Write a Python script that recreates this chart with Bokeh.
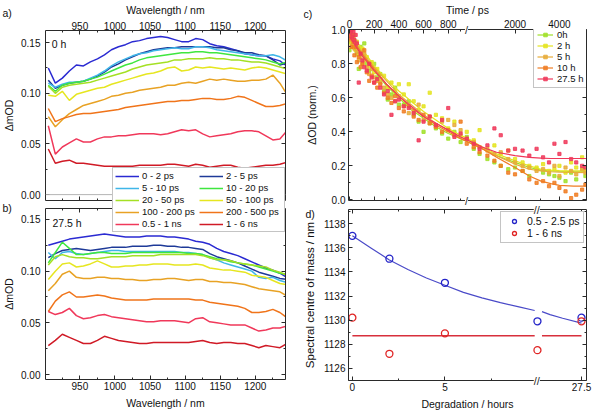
import numpy as np
from bokeh.plotting import figure
from bokeh.models import (LinearAxis, FixedTicker, Legend, LegendItem, Label, Span,
                          Range1d, NumeralTickFormatter, CustomLabelingPolicy)
from bokeh.layouts import row, column
from bokeh.embed import file_html
from bokeh.resources import INLINE

FONT = "Liberation Sans"
TXT = "#111111"

# ---------------- panel a / b : spectra ----------------
wavelength = [905, 915, 925, 935, 945, 955, 965, 975, 985, 995, 1005, 1015, 1025, 1035, 1045,
              1055, 1065, 1075, 1085, 1095, 1105, 1115, 1125, 1135, 1145, 1155, 1165, 1175,
              1185, 1195, 1205, 1215, 1225, 1235, 1245]

delay_labels = ["0 - 2 ps", "2 - 5 ps", "5 - 10 ps", "10 - 20 ps", "20 - 50 ps",
                "50 - 100 ps", "100 - 200 ps", "200 - 500 ps", "0.5 - 1 ns", "1 - 6 ns"]
delay_colors = ["#2a2ad2", "#1e3a98", "#3fb6e8", "#3fe63f", "#a4e024",
                "#e6e620", "#e8a224", "#f0741a", "#f0385a", "#d01a26"]

a_0_2ps = [0.125, 0.110, 0.115, 0.122, 0.128, 0.127, 0.131, 0.134, 0.138, 0.143, 0.146, 0.148,
           0.151, 0.152, 0.154, 0.155, 0.156, 0.155, 0.153, 0.151, 0.151, 0.154, 0.153, 0.149,
           0.147, 0.146, 0.144, 0.142, 0.139, 0.138, 0.137, 0.137, 0.134, 0.132, 0.127]
a_2_5ps = [0.113, 0.105, 0.108, 0.110, 0.111, 0.112, 0.114, 0.117, 0.121, 0.126, 0.129, 0.133,
           0.136, 0.139, 0.141, 0.143, 0.144, 0.145, 0.145, 0.146, 0.146, 0.146, 0.146, 0.146,
           0.145, 0.145, 0.143, 0.142, 0.140, 0.140, 0.138, 0.137, 0.133, 0.128, 0.130]
a_5_10ps = [0.110, 0.106, 0.109, 0.111, 0.111, 0.112, 0.115, 0.118, 0.122, 0.127, 0.131, 0.134,
            0.137, 0.139, 0.140, 0.142, 0.143, 0.144, 0.145, 0.144, 0.144, 0.146, 0.146, 0.145,
            0.143, 0.142, 0.141, 0.140, 0.139, 0.138, 0.137, 0.137, 0.138, 0.136, 0.132]
a_10_20ps = [0.108, 0.102, 0.108, 0.110, 0.111, 0.112, 0.114, 0.116, 0.119, 0.122, 0.125, 0.128,
             0.130, 0.133, 0.135, 0.136, 0.137, 0.138, 0.139, 0.140, 0.140, 0.141, 0.141, 0.140,
             0.140, 0.139, 0.138, 0.137, 0.136, 0.135, 0.134, 0.133, 0.131, 0.129, 0.131]
a_20_50ps = [0.107, 0.100, 0.106, 0.108, 0.109, 0.110, 0.111, 0.113, 0.115, 0.117, 0.119, 0.121,
             0.124, 0.126, 0.128, 0.129, 0.130, 0.131, 0.133, 0.133, 0.134, 0.134, 0.134, 0.135,
             0.134, 0.134, 0.133, 0.133, 0.132, 0.131, 0.131, 0.130, 0.128, 0.126, 0.124]
a_50_100ps = [0.098, 0.097, 0.102, 0.093, 0.099, 0.101, 0.103, 0.105, 0.106, 0.109, 0.111, 0.113,
              0.115, 0.117, 0.119, 0.120, 0.122, 0.125, 0.126, 0.122, 0.123, 0.126, 0.125, 0.126,
              0.125, 0.124, 0.125, 0.124, 0.123, 0.125, 0.126, 0.125, 0.123, 0.121, 0.119]
a_100_200ps = [0.077, 0.067, 0.074, 0.080, 0.084, 0.088, 0.090, 0.092, 0.094, 0.097, 0.098, 0.100,
               0.101, 0.103, 0.104, 0.105, 0.106, 0.108, 0.108, 0.110, 0.111, 0.110, 0.112, 0.114,
               0.113, 0.114, 0.113, 0.112, 0.112, 0.113, 0.113, 0.114, 0.118, 0.110, 0.099]
a_200_500ps = [0.085, 0.072, 0.075, 0.077, 0.079, 0.080, 0.080, 0.081, 0.082, 0.083, 0.084, 0.086,
               0.087, 0.088, 0.089, 0.090, 0.091, 0.092, 0.092, 0.093, 0.093, 0.094, 0.095, 0.095,
               0.094, 0.094, 0.095, 0.097, 0.096, 0.093, 0.090, 0.087, 0.087, 0.088, 0.090]
a_05_1ns = [0.068, 0.040, 0.047, 0.051, 0.055, 0.052, 0.052, 0.055, 0.057, 0.057, 0.058, 0.058,
            0.059, 0.060, 0.060, 0.060, 0.059, 0.060, 0.062, 0.064, 0.063, 0.064, 0.060, 0.057,
            0.058, 0.059, 0.060, 0.062, 0.063, 0.063, 0.062, 0.058, 0.054, 0.055, 0.063]
a_1_6ns = [0.045, 0.031, 0.033, 0.034, 0.031, 0.031, 0.030, 0.029, 0.028, 0.028, 0.028, 0.028,
           0.028, 0.029, 0.029, 0.029, 0.029, 0.030, 0.030, 0.029, 0.028, 0.030, 0.029, 0.027,
           0.028, 0.029, 0.029, 0.027, 0.026, 0.027, 0.028, 0.029, 0.029, 0.030, 0.032]

b_0_2ps = [0.125, 0.127, 0.129, 0.131, 0.132, 0.133, 0.134, 0.135, 0.136, 0.135, 0.134, 0.133,
           0.133, 0.133, 0.134, 0.134, 0.134, 0.133, 0.133, 0.132, 0.131, 0.129, 0.128, 0.126,
           0.122, 0.119, 0.117, 0.115, 0.112, 0.109, 0.106, 0.103, 0.101, 0.098, 0.094]
b_2_5ps = [0.113, 0.117, 0.120, 0.121, 0.122, 0.121, 0.120, 0.121, 0.122, 0.123, 0.123, 0.123,
           0.124, 0.124, 0.124, 0.125, 0.125, 0.124, 0.124, 0.123, 0.123, 0.122, 0.121, 0.117,
           0.114, 0.112, 0.110, 0.108, 0.105, 0.102, 0.099, 0.097, 0.095, 0.093, 0.092]
b_5_10ps = [0.118, 0.112, 0.118, 0.119, 0.117, 0.116, 0.117, 0.118, 0.119, 0.120, 0.120, 0.119,
            0.119, 0.119, 0.119, 0.119, 0.119, 0.119, 0.119, 0.118, 0.118, 0.117, 0.116, 0.113,
            0.111, 0.108, 0.106, 0.104, 0.102, 0.100, 0.094, 0.093, 0.094, 0.091, 0.089]
b_10_20ps = [0.108, 0.118, 0.128, 0.122, 0.116, 0.116, 0.117, 0.118, 0.118, 0.117, 0.117, 0.117,
             0.118, 0.118, 0.118, 0.118, 0.118, 0.118, 0.118, 0.118, 0.117, 0.117, 0.116, 0.114,
             0.112, 0.111, 0.109, 0.108, 0.107, 0.106, 0.104, 0.102, 0.100, 0.098, 0.097]
b_20_50ps = [0.106, 0.114, 0.116, 0.114, 0.113, 0.113, 0.112, 0.112, 0.113, 0.114, 0.114, 0.114,
             0.115, 0.115, 0.115, 0.115, 0.116, 0.116, 0.116, 0.116, 0.116, 0.116, 0.115, 0.113,
             0.111, 0.111, 0.110, 0.108, 0.107, 0.106, 0.105, 0.104, 0.101, 0.099, 0.096]
b_50_100ps = [0.092, 0.100, 0.107, 0.108, 0.104, 0.105, 0.107, 0.110, 0.107, 0.104, 0.104, 0.105,
              0.105, 0.106, 0.106, 0.107, 0.107, 0.107, 0.106, 0.106, 0.106, 0.107, 0.106, 0.103,
              0.102, 0.101, 0.101, 0.100, 0.099, 0.096, 0.095, 0.094, 0.091, 0.088, 0.087]
b_100_200ps = [0.081, 0.088, 0.097, 0.100, 0.094, 0.093, 0.093, 0.094, 0.094, 0.093, 0.093, 0.092,
               0.092, 0.091, 0.091, 0.092, 0.092, 0.093, 0.093, 0.092, 0.091, 0.092, 0.092, 0.090,
               0.090, 0.089, 0.089, 0.088, 0.087, 0.085, 0.083, 0.082, 0.081, 0.080, 0.076]
b_200_500ps = [0.061, 0.071, 0.077, 0.080, 0.075, 0.075, 0.076, 0.077, 0.076, 0.074, 0.073, 0.072,
               0.072, 0.072, 0.072, 0.073, 0.073, 0.073, 0.073, 0.073, 0.073, 0.072, 0.072, 0.070,
               0.069, 0.068, 0.067, 0.066, 0.064, 0.060, 0.060, 0.061, 0.063, 0.060, 0.055]
b_05_1ns = [0.061, 0.058, 0.060, 0.064, 0.057, 0.054, 0.055, 0.057, 0.058, 0.056, 0.055, 0.054,
            0.053, 0.052, 0.051, 0.051, 0.052, 0.052, 0.052, 0.051, 0.050, 0.054, 0.055, 0.051,
            0.050, 0.049, 0.048, 0.048, 0.048, 0.045, 0.042, 0.043, 0.045, 0.045, 0.047]
b_1_6ns = [0.028, 0.033, 0.039, 0.036, 0.033, 0.030, 0.030, 0.033, 0.037, 0.035, 0.033, 0.032,
           0.031, 0.030, 0.030, 0.031, 0.031, 0.031, 0.031, 0.031, 0.031, 0.032, 0.033, 0.031,
           0.030, 0.031, 0.031, 0.030, 0.030, 0.028, 0.026, 0.028, 0.027, 0.026, 0.030]

spectra_a = [a_0_2ps, a_2_5ps, a_5_10ps, a_10_20ps, a_20_50ps, a_50_100ps, a_100_200ps,
             a_200_500ps, a_05_1ns, a_1_6ns]
spectra_b = [b_0_2ps, b_2_5ps, b_5_10ps, b_10_20ps, b_20_50ps, b_50_100ps, b_100_200ps,
             b_200_500ps, b_05_1ns, b_1_6ns]

wl_ticks = [950, 1000, 1050, 1100, 1150, 1200]
wl_minor = [925, 975, 1025, 1075, 1125, 1175, 1225]
mod_ticks = [0.0, 0.05, 0.10, 0.15]
mod_minor = [0.025, 0.075, 0.125]

# ---------------- panel c : kinetics ----------------
kin_labels = ["0h", "2 h", "5 h", "10 h", "27.5 h"]
kin_colors = ["#a0e028", "#e4e41e", "#e8ac38", "#f07c22", "#f0385a"]

time_ps = [0, 8, 16, 24, 32, 40, 50, 60, 75, 90,
           105, 120, 140, 160, 180, 200, 225, 250, 280, 310,
           340, 370, 400, 440, 480, 520, 560, 600, 650, 700,
           750, 800, 850, 900, 950, 1050, 1150, 1300, 1450, 1600,
           1800, 2000, 2250, 2500, 2800, 3100, 3400, 3700, 4000, 4400,
           4800, 5200, 5700, 6000]
kin_0h = [0.88, 0.93, 0.97, 0.90, 0.95, 0.92, 0.89, 0.86, 0.77, 0.90,
          0.88, 0.92, 0.80, 0.76, 0.78, 0.80, 0.72, 0.74, 0.64, 0.59,
          0.62, 0.66, 0.56, 0.56, 0.58, 0.50, 0.46, 0.40, 0.45, 0.42,
          0.39, 0.36, 0.40, 0.34, 0.37, 0.30, 0.27, 0.24, 0.22, 0.20,
          0.18, 0.19, 0.17, 0.14, 0.18, 0.16, 0.15, 0.14, 0.13, 0.11,
          0.16, 0.12, 0.18, 0.14]
kin_2h = [0.95, 0.99, 0.92, 0.96, 0.90, 0.97, 0.88, 0.93, 0.85, 0.86,
          0.89, 0.82, 0.84, 0.79, 0.81, 0.75, 0.77, 0.71, 0.73, 0.66,
          0.69, 0.64, 0.68, 0.62, 0.68, 0.58, 0.53, 0.55, 0.63, 0.50,
          0.48, 0.42, 0.46, 0.38, 0.40, 0.35, 0.41, 0.30, 0.32, 0.27,
          0.29, 0.24, 0.22, 0.20, 0.19, 0.21, 0.17, 0.18, 0.20, 0.16,
          0.22, 0.19, 0.25, 0.17]
kin_5h = [0.97, 0.94, 1.00, 0.91, 0.96, 0.89, 0.93, 0.87, 0.82, 0.84,
          0.80, 0.86, 0.78, 0.74, 0.77, 0.72, 0.70, 0.69, 0.66, 0.62,
          0.60, 0.58, 0.61, 0.55, 0.51, 0.52, 0.56, 0.47, 0.49, 0.43,
          0.46, 0.47, 0.44, 0.41, 0.36, 0.34, 0.31, 0.29, 0.27, 0.28,
          0.24, 0.22, 0.20, 0.19, 0.17, 0.18, 0.16, 0.20, 0.14, 0.19,
          0.17, 0.15, 0.18, 0.16]
kin_10h = [0.98, 0.95, 0.90, 0.97, 0.93, 0.85, 0.90, 0.81, 0.84, 0.78,
           0.80, 0.88, 0.75, 0.70, 0.73, 0.69, 0.66, 0.68, 0.63, 0.60,
           0.57, 0.61, 0.54, 0.52, 0.55, 0.49, 0.47, 0.50, 0.45, 0.43,
           0.40, 0.41, 0.38, 0.46, 0.33, 0.31, 0.28, 0.26, 0.23, 0.20,
           0.16, 0.15, 0.17, 0.12, 0.10, 0.11, 0.08, 0.10, 0.07, 0.05,
           0.01, 0.03, 0.06, 0.09]
kin_27h = [1.00, 0.98, 1.00, 0.96, 0.99, 0.94, 0.97, 0.92, 0.69, 0.86,
           0.82, 0.78, 0.76, 0.80, 0.72, 0.69, 0.71, 0.66, 0.62, 0.64,
           0.50, 0.58, 0.59, 0.55, 0.54, 0.51, 0.35, 0.46, 0.49, 0.44,
           0.47, 0.54, 0.37, 0.39, 0.36, 0.33, 0.30, 0.32, 0.42, 0.38,
           0.29, 0.30, 0.29, 0.26, 0.30, 0.25, 0.22, 0.33, 0.27, 0.34,
           0.24, 0.22, 0.20, 0.19]
kin_points = [kin_0h, kin_2h, kin_5h, kin_10h, kin_27h]

fit_time_ps = [0, 100, 200, 300, 400, 500, 600, 700, 800, 900, 960,
               1200, 1500, 2000, 2500, 3000, 3500, 4000, 5000, 6100]
fit_0h = [0.97, 0.86, 0.76, 0.67, 0.60, 0.53, 0.48, 0.43, 0.39, 0.36, 0.34,
          0.30, 0.26, 0.22, 0.19, 0.175, 0.17, 0.168, 0.166, 0.165]
fit_2h = [0.99, 0.89, 0.79, 0.71, 0.64, 0.58, 0.52, 0.47, 0.42, 0.38, 0.36,
          0.31, 0.27, 0.23, 0.20, 0.18, 0.175, 0.172, 0.17, 0.17]
fit_5h = [0.98, 0.87, 0.78, 0.70, 0.62, 0.56, 0.50, 0.45, 0.41, 0.37, 0.35,
          0.30, 0.26, 0.21, 0.18, 0.17, 0.165, 0.163, 0.162, 0.16]
fit_10h = [0.97, 0.86, 0.77, 0.68, 0.61, 0.54, 0.49, 0.44, 0.40, 0.36, 0.34,
           0.30, 0.25, 0.19, 0.14, 0.11, 0.095, 0.085, 0.08, 0.08]
fit_27h = [0.96, 0.85, 0.76, 0.68, 0.61, 0.55, 0.49, 0.45, 0.41, 0.37, 0.35,
           0.31, 0.28, 0.26, 0.25, 0.245, 0.243, 0.243, 0.243, 0.243]
kin_fits = [fit_0h, fit_2h, fit_5h, fit_10h, fit_27h]

time_ticks = [0, 200, 400, 600, 800, 2000, 4000]
time_minor = [100, 300, 500, 700, 900, 3000]
norm_ticks = [0.0, 0.2, 0.4, 0.6, 0.8, 1.0]
norm_minor = [0.1, 0.3, 0.5, 0.7, 0.9]

# broken time axis: linear up to the break, logarithmic after it
T_BREAK = 960.0
LOG_K = 519.0


def t_disp(t):
    t = np.asarray(t, dtype=float)
    return np.where(t <= T_BREAK, t, T_BREAK + LOG_K * np.log(np.maximum(t, T_BREAK) / T_BREAK))


# ---------------- panel d : centre of mass ----------------
hours = [0, 2, 5, 10, 27.5]
com_early = [1137.0, 1135.1, 1133.1, 1129.9, 1130.2]
com_late = [1130.2, 1127.2, 1128.9, 1127.5, 1129.9]
fit_early_h1 = [0, 1, 2, 3, 4, 5, 6, 7, 8, 9, 9.85]
fit_early_v1 = [1137.0, 1136.0, 1135.0, 1134.2, 1133.5, 1132.9, 1132.3, 1131.85, 1131.45, 1131.1, 1130.8]
fit_early_h2 = [11.8, 15.0, 20.0, 27.5]
fit_early_v2 = [1130.7, 1130.45, 1130.15, 1129.75]
fit_late_h1 = [0, 9.85]
fit_late_h2 = [11.8, 27.5]
fit_late_level = 1128.7
hour_ticks = [0, 5, 27.5]
hour_minor = [2.5, 7.5]
com_ticks = [1126, 1128, 1130, 1132, 1134, 1136, 1138]
com_minor = [1125, 1127, 1129, 1131, 1133, 1135, 1137, 1139]

H_BREAK = 10.0
H_COMP = 0.136


def h_disp(h):
    h = np.asarray(h, dtype=float)
    return np.where(h <= H_BREAK, h, H_BREAK + (h - H_BREAK) * H_COMP)


# ---------------- layout geometry (pixels) ----------------
W_LEFT, W_RIGHT = 300, 294
H_A, H_B = 201, 211
H_C, H_D = 207, 205
TOTAL_W, TOTAL_H = W_LEFT + W_RIGHT, H_A + H_B
A_BORD = dict(min_border_left=45, min_border_right=15, min_border_top=27, min_border_bottom=1)
B_BORD = dict(min_border_left=45, min_border_right=15, min_border_top=7, min_border_bottom=33)
C_BORD = dict(min_border_left=45, min_border_right=8, min_border_top=29, min_border_bottom=7)
D_BORD = dict(min_border_left=45, min_border_right=8, min_border_top=2, min_border_bottom=32)

A_XR, A_YR = (901, 1243), (-0.0058, 0.162)
B_XR, B_YR = (901, 1243), (-0.0048, 0.1606)
C_XR, C_YR = (-8, 1920), (-0.004, 1.002)
D_XR, D_YR = (-0.21, 12.65), (1124.98, 1139.19)

# ---------------- helpers ----------------
AX_COL = "#2a2a2a"


def make_axis(ticks, minor, show_labels, label=None, formatter=None, overrides=None,
              label_size="10.5px", tick_standoff=2, label_standoff=2):
    ax = LinearAxis(ticker=FixedTicker(ticks=list(ticks), minor_ticks=list(minor)))
    if formatter is not None:
        ax.formatter = formatter
    if overrides is not None:
        ax.major_label_overrides = overrides
    ax.major_tick_in = 4
    ax.major_tick_out = 0
    ax.minor_tick_in = 2
    ax.minor_tick_out = 0
    ax.axis_line_color = AX_COL
    ax.major_tick_line_color = AX_COL
    ax.minor_tick_line_color = AX_COL
    ax.major_label_text_font = FONT
    ax.major_label_text_color = TXT
    if show_labels:
        ax.major_label_text_font_size = "10px"
        ax.major_label_standoff = tick_standoff
    else:
        ax.major_label_text_font_size = "0px"
        ax.major_label_standoff = 0
        ax.major_label_policy = CustomLabelingPolicy(code="return [];")
    if label:
        ax.axis_label = label
        ax.axis_label_text_font = FONT
        ax.axis_label_text_font_size = label_size
        ax.axis_label_text_font_style = "normal"
        ax.axis_label_text_color = TXT
        ax.axis_label_standoff = label_standoff
    return ax


def base_fig(width, height, xr, yr, bord):
    p = figure(width=width, height=height, x_range=Range1d(*xr), y_range=Range1d(*yr),
               x_axis_type=None, y_axis_type=None, toolbar_location=None,
               output_backend="svg", **bord)
    p.outline_line_color = None
    return p


# ---------------- figure a ----------------
pa = base_fig(W_LEFT, H_A, A_XR, A_YR, A_BORD)
pa.add_layout(make_axis(wl_ticks, wl_minor, True, "Wavelength / nm", tick_standoff=1, label_standoff=3), "above")
pa.add_layout(make_axis(wl_ticks, wl_minor, False), "below")
pa.add_layout(make_axis(mod_ticks, mod_minor, True, "\u0394mOD", NumeralTickFormatter(format="0.00"),
                        tick_standoff=5, label_standoff=3), "left")
pa.add_layout(make_axis(mod_ticks, mod_minor, False), "right")
pa.add_layout(Span(location=0, dimension="width", line_color="#b4b4b4", line_width=1))
for vals, col in zip(spectra_a, delay_colors):
    pa.line(wavelength, vals, line_color=col, line_width=1.5)
pa.add_layout(Label(x=910, y=0.149, text="0 h", text_font=FONT, text_font_size="10.5px",
                    text_baseline="middle", text_color=TXT))

# ---------------- figure b ----------------
pb = base_fig(W_LEFT, H_B, B_XR, B_YR, B_BORD)
pb.add_layout(make_axis(wl_ticks, wl_minor, True, "Wavelength / nm", tick_standoff=2, label_standoff=4), "below")
pb.add_layout(make_axis(wl_ticks, wl_minor, False), "above")
pb.add_layout(make_axis(mod_ticks, mod_minor, True, "\u0394mOD", NumeralTickFormatter(format="0.00"),
                        tick_standoff=5, label_standoff=3), "left")
pb.add_layout(make_axis(mod_ticks, mod_minor, False), "right")
for vals, col in zip(spectra_b, delay_colors):
    pb.line(wavelength, vals, line_color=col, line_width=1.5)
pb.add_layout(Label(x=911, y=0.147, text="27.5 h", text_font=FONT, text_font_size="10.5px",
                    text_baseline="middle", text_color=TXT))

# ---------------- figure c ----------------
pc = base_fig(W_RIGHT, H_C, C_XR, C_YR, C_BORD)
t_tick_pos = [round(float(v), 3) for v in t_disp(time_ticks)]
t_minor_pos = [round(float(v), 3) for v in t_disp(time_minor)]
t_over = {pos: str(t) for pos, t in zip(t_tick_pos, time_ticks)}
pc.add_layout(make_axis(t_tick_pos, t_minor_pos, True, "Time / ps", overrides=t_over,
                        tick_standoff=2, label_standoff=1), "above")
pc.add_layout(make_axis(t_tick_pos, t_minor_pos, False), "below")
pc.add_layout(make_axis(norm_ticks, norm_minor, True, "\u0394OD (norm.)",
                        NumeralTickFormatter(format="0.0"), tick_standoff=3, label_standoff=11), "left")
pc.add_layout(make_axis(norm_ticks, norm_minor, False), "right")
c_items = []
xs_pts = t_disp(time_ps)
xs_fit = t_disp(fit_time_ps)
for pts, fit, col, lab in zip(kin_points, kin_fits, kin_colors, kin_labels):
    sr = pc.scatter(xs_pts, pts, marker="square", size=3.2, fill_color=col, line_color=col,
                    fill_alpha=0.85, line_alpha=0.85)
    lr = pc.line(xs_fit, fit, line_color=col, line_width=1.2)
    c_items.append(LegendItem(label=lab, renderers=[lr, sr]))
leg_c = Legend(items=c_items, location=(185, 112),
               label_text_font=FONT, label_text_font_size="9.5px", label_text_color=TXT,
               glyph_width=16, glyph_height=9, label_height=10, label_standoff=4,
               spacing=0, padding=3, margin=0,
               border_line_color="#8a8a8a", border_line_width=1,
               background_fill_color="white", background_fill_alpha=1.0)
pc.add_layout(leg_c, "center")

# ---------------- figure d ----------------
pd_ = base_fig(W_RIGHT, H_D, D_XR, D_YR, D_BORD)
h_tick_pos = [round(float(v), 3) for v in h_disp(hour_ticks)]
h_minor_pos = [round(float(v), 3) for v in h_disp(hour_minor)]
h_over = {pos: ("27.5" if t == 27.5 else str(int(t))) for pos, t in zip(h_tick_pos, hour_ticks)}
pd_.add_layout(make_axis(h_tick_pos, h_minor_pos, True, "Degradation / hours", overrides=h_over,
                         tick_standoff=2, label_standoff=4), "below")
pd_.add_layout(make_axis(h_tick_pos, h_minor_pos, False), "above")
pd_.add_layout(make_axis(com_ticks, com_minor, True, "Spectral centre of mass / nm",
                         label_size="11.5px", tick_standoff=3, label_standoff=5), "left")
pd_.add_layout(make_axis(com_ticks, com_minor, False), "right")
pd_.line(h_disp(fit_early_h1), fit_early_v1, line_color="#4a4ac8", line_width=1.2)
pd_.line(h_disp(fit_early_h2), fit_early_v2, line_color="#4a4ac8", line_width=1.2)
pd_.line(h_disp(fit_late_h1), [fit_late_level] * len(fit_late_h1), line_color="#d8303c", line_width=1.4)
pd_.line(h_disp(fit_late_h2), [fit_late_level] * len(fit_late_h2), line_color="#d8303c", line_width=1.4)
r_early = pd_.scatter(h_disp(hours), com_early, marker="circle", size=7, fill_color=None,
                      line_color="#2424c8", line_width=1.3)
r_late = pd_.scatter(h_disp(hours), com_late, marker="circle", size=7, fill_color=None,
                     line_color="#e02424", line_width=1.3)
leg_d = Legend(items=[LegendItem(label="0.5 - 2.5 ps", renderers=[r_early]),
                      LegendItem(label="1 - 6 ns", renderers=[r_late])],
               location=(152, 137),
               label_text_font=FONT, label_text_font_size="10.5px", label_text_color=TXT,
               glyph_width=20, glyph_height=10, label_height=11, label_standoff=3,
               spacing=0, padding=3, margin=0,
               border_line_color="#8a8a8a", border_line_width=1,
               background_fill_color="white", background_fill_alpha=1.0)
pd_.add_layout(leg_d, "center")

# ---------------- transparent overlay: panel tags, shared legend, axis breaks ----------------
ov = figure(width=TOTAL_W, height=TOTAL_H, x_range=Range1d(0, TOTAL_W), y_range=Range1d(TOTAL_H, 0),
            x_axis_type=None, y_axis_type=None, toolbar_location=None, output_backend="svg",
            min_border=0, margin=(-TOTAL_H, 0, 0, 0))
ov.title.visible = False
ov.outline_line_color = None
ov.background_fill_color = None
ov.border_fill_color = None

# frame boxes (left, top, right, bottom) in overlay pixels
a_frame = (A_BORD["min_border_left"], A_BORD["min_border_top"],
           W_LEFT - A_BORD["min_border_right"], H_A - A_BORD["min_border_bottom"])
b_frame = (B_BORD["min_border_left"], H_A + B_BORD["min_border_top"],
           W_LEFT - B_BORD["min_border_right"], TOTAL_H - B_BORD["min_border_bottom"])
c_frame = (W_LEFT + C_BORD["min_border_left"], C_BORD["min_border_top"],
           TOTAL_W - C_BORD["min_border_right"], H_C - C_BORD["min_border_bottom"])
d_frame = (W_LEFT + D_BORD["min_border_left"], H_C + D_BORD["min_border_top"],
           TOTAL_W - D_BORD["min_border_right"], TOTAL_H - D_BORD["min_border_bottom"])

tag_pos = {"a)": (a_frame[0] - 43, 12), "b)": (b_frame[0] - 43, b_frame[1] - 1),
           "c)": (c_frame[0] - 42, 13), "d)": (d_frame[0] - 40, d_frame[1] + 4)}
for tag, (tx, ty) in tag_pos.items():
    ov.add_layout(Label(x=tx, y=ty, text=tag, text_font=FONT, text_font_size="10.5px",
                        text_baseline="middle", text_align="left", text_color=TXT))


def frame_x(fr, xr, v):
    return fr[0] + (v - xr[0]) / (xr[1] - xr[0]) * (fr[2] - fr[0])


c_bx = frame_x(c_frame, C_XR, T_BREAK)
d_bx = frame_x(d_frame, D_XR, H_BREAK)
for bx, fr, mark in [(c_bx, c_frame, "/"), (d_bx, d_frame, "//")]:
    for by in (fr[1], fr[3]):
        ov.add_layout(Label(x=bx, y=by, text=mark, text_align="center", text_baseline="middle",
                            text_font=FONT, text_font_size="11px", text_color=AX_COL,
                            background_fill_color="white"))

# shared legend of panels a and b (legend-only renderers hold no visible data)
nan = float("nan")
leg_renderers = [ov.line(x=[nan, nan], y=[nan, nan], line_color=col, line_width=1.5)
                 for col in delay_colors]
items_ab = [LegendItem(label=lab, renderers=[r]) for lab, r in zip(delay_labels, leg_renderers)]
order = [0, 2, 4, 6, 8, 1, 3, 5, 7, 9]
leg_ab = Legend(items=[items_ab[i] for i in order], ncols=2,
                location=(112, TOTAL_H - 232),
                label_text_font=FONT, label_text_font_size="9.5px", label_text_color=TXT,
                glyph_width=24, glyph_height=10, label_height=11, label_width=56,
                label_standoff=3, spacing=1, padding=2, margin=0,
                border_line_color="#8a8a8a", border_line_width=1,
                background_fill_color="white", background_fill_alpha=1.0)
ov.add_layout(leg_ab, "center")

layout = column(row(column(pa, pb), column(pc, pd_)), ov)
open("out.html", "w").write(file_html(layout, INLINE))
